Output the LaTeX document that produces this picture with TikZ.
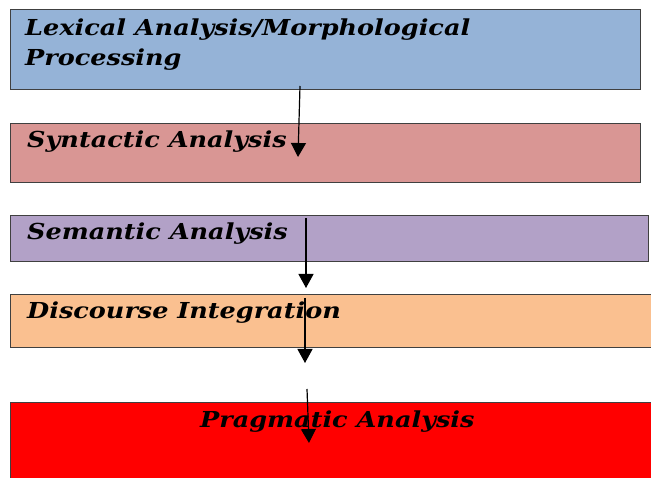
\documentclass[tikz,border=0pt]{standalone}
\usepackage{fontspec}
\setmainfont{DejaVu Serif}
\newfontfamily\stagefont[FakeStretch=1.16]{DejaVu Serif}
\usetikzlibrary{arrows.meta}
\definecolor{lexblue}{HTML}{95B3D7}
\definecolor{synred}{HTML}{D99694}
\definecolor{sempurple}{HTML}{B2A1C7}
\definecolor{discorange}{HTML}{FAC090}
\definecolor{edgegray}{HTML}{404040}
\tikzset{
  stagebox/.style={draw=edgegray, line width=0.8pt, anchor=north west, inner sep=0pt, outer sep=0pt},
  stagetext/.style={anchor=base west, inner sep=0pt, font=\stagefont\fontsize{22}{26}\selectfont\bfseries\itshape},
  flowarrow/.style={line width=1.2pt, -{Triangle[width=15pt,length=14pt]}}
}
\begin{document}
\begin{tikzpicture}[x=1pt,y=-1pt]
\useasboundingbox (0,0) rectangle (651,478);
\node[stagebox, fill=lexblue, minimum width=630pt, minimum height=80pt] (lex) at (10,9) {};
\node[stagebox, fill=synred, minimum width=630pt, minimum height=59pt] (syn) at (10,123) {};
\node[stagebox, fill=sempurple, minimum width=638pt, minimum height=46pt] (sem) at (10,215) {};
\node[stagebox, fill=discorange, minimum width=645pt, minimum height=53pt] (disc) at (10,294) {};
\node[stagebox, fill=red, minimum width=645pt, minimum height=85pt] (prag) at (10,402) {};
\node[stagetext] (lext1) at (25,36) {Lexical Analysis/Morphological};
\node[stagetext] (lext2) at (25,66) {Processing};
\node[stagetext] (synt) at (27,148) {Syntactic Analysis};
\node[stagetext] (semt) at (27,240) {Semantic Analysis};
\node[stagetext] (disct) at (27,319) {Discourse Integration};
\node[stagetext] (pragt) at (200,428) {Pragmatic Analysis};
\coordinate (a1s) at (300,86);
\coordinate (a1e) at (298,157);
\coordinate (a2s) at (306,218);
\coordinate (a2e) at (306,288);
\coordinate (a3s) at (305,298);
\coordinate (a3e) at (305,363);
\coordinate (a4s) at (307,389);
\coordinate (a4e) at (309,443);
\draw[flowarrow] (a1s) -- (a1e);
\draw[flowarrow] (a2s) -- (a2e);
\draw[flowarrow] (a3s) -- (a3e);
\draw[flowarrow] (a4s) -- (a4e);
\end{tikzpicture}
\end{document}
